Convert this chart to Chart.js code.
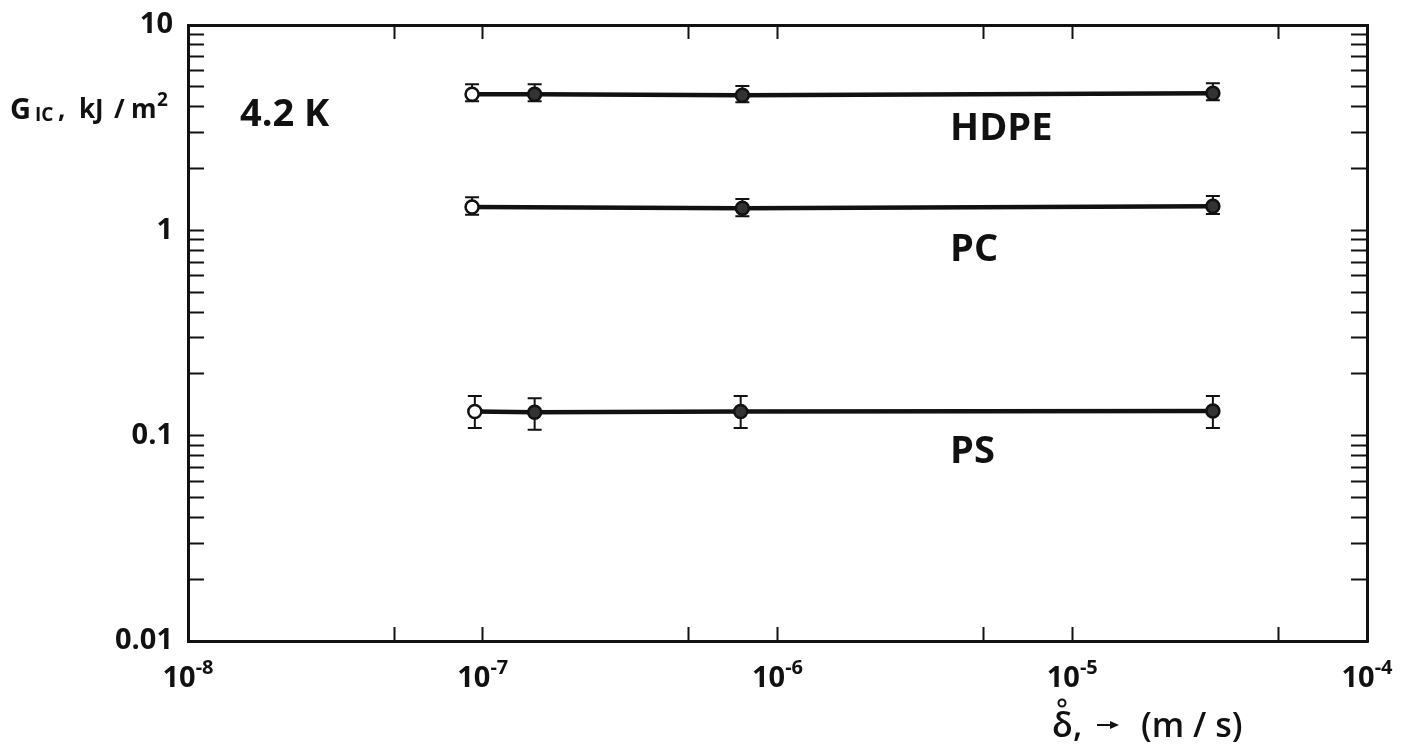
<!DOCTYPE html>
<html>
<head>
<meta charset="utf-8">
<script src="https://cdn.jsdelivr.net/npm/chart.js@4.4.1/dist/chart.umd.min.js"></script>
<style>
  html, body { margin: 0; padding: 0; background: #fff; }
  #wrap { width: 1402px; height: 747px; }
</style>
</head>
<body>
<div id="wrap"><canvas id="gicChart" width="1402" height="747"></canvas></div>
<script>
// Fracture energy G_IC at 4.2 K vs. crosshead speed, with scatter bands
const hdpeSpeed = [9.2e-8, 1.5e-7, 7.6e-7, 3.0e-5];
const hdpeG     = [4.60, 4.60, 4.55, 4.65];
const hdpeLow   = [4.25, 4.25, 4.20, 4.30];
const hdpeHigh  = [5.15, 5.15, 5.05, 5.20];

const pcSpeed = [9.2e-8, 7.6e-7, 3.0e-5];
const pcG     = [1.30, 1.28, 1.31];
const pcLow   = [1.19, 1.17, 1.20];
const pcHigh  = [1.45, 1.42, 1.47];

const psSpeed = [9.4e-8, 1.5e-7, 7.5e-7, 3.0e-5];
const psG     = [0.131, 0.130, 0.131, 0.132];
const psLow   = [0.109, 0.107, 0.109, 0.109];
const psHigh  = [0.156, 0.152, 0.156, 0.156];

// axis ticks
const xTickValues = [1e-8, 5e-8, 1e-7, 5e-7, 1e-6, 5e-6, 1e-5, 5e-5, 1e-4];
const xLabelValues = [1e-8, 1e-7, 1e-6, 1e-5, 1e-4];
const xLabelExps = ['-8', '-7', '-6', '-5', '-4'];
const yTickValues = [
  0.01, 0.02, 0.03, 0.04, 0.05, 0.06, 0.07, 0.08, 0.09,
  0.1, 0.2, 0.3, 0.4, 0.5, 0.6, 0.7, 0.8, 0.9,
  1, 2, 3, 4, 5, 6, 7, 8, 9, 10
];
const yLabelValues = [0.01, 0.1, 1, 10];
const yLabelTexts = ['0.01', '0.1', '1', '10'];

// material labels placed in data space
const materialNames = ['HDPE', 'PC', 'PS'];
const materialLabelX = [3.85e-6, 3.85e-6, 3.85e-6];
const materialLabelY = [3.12, 0.80, 0.083];

const FONT = '"Open Sans", "Noto Sans", "DejaVu Sans", sans-serif';
const INK = '#111';

function points(xs, ys) {
  return xs.map((x, i) => ({ x: x, y: ys[i] }));
}

// first specimen of each set is an open symbol
function fills(n) {
  const f = [];
  for (let i = 0; i < n; i++) f.push(i === 0 ? '#fff' : '#333');
  return f;
}

function makeSet(label, xs, ys, lo, hi) {
  return {
    label: label,
    data: points(xs, ys),
    errLow: lo,
    errHigh: hi,
    showLine: true,
    borderColor: INK,
    borderWidth: 4.5,
    pointRadius: 6.5,
    pointBorderWidth: 2.5,
    pointBorderColor: INK,
    pointBackgroundColor: fills(xs.length),
    tension: 0
  };
}

// vertical error bars with caps, under the symbols
const errorBars = {
  id: 'errorBars',
  beforeDatasetsDraw(chart) {
    const ctx = chart.ctx;
    const xs = chart.scales.x, ys = chart.scales.y;
    ctx.save();
    ctx.strokeStyle = INK;
    ctx.lineWidth = 2;
    chart.data.datasets.forEach(ds => {
      ds.data.forEach((p, i) => {
        const px = xs.getPixelForValue(p.x);
        const top = ys.getPixelForValue(ds.errHigh[i]);
        const bot = ys.getPixelForValue(ds.errLow[i]);
        ctx.beginPath();
        ctx.moveTo(px, top); ctx.lineTo(px, bot);
        ctx.moveTo(px - 7, top); ctx.lineTo(px + 7, top);
        ctx.moveTo(px - 7, bot); ctx.lineTo(px + 7, bot);
        ctx.stroke();
      });
    });
    ctx.restore();
  }
};

// power-of-ten labels, axis titles and annotations
const textLayer = {
  id: 'textLayer',
  afterDraw(chart) {
    const ctx = chart.ctx;
    const xs = chart.scales.x, ys = chart.scales.y;
    ctx.save();
    ctx.fillStyle = INK;
    ctx.textBaseline = 'alphabetic';
    ctx.textAlign = 'left';

    // x tick labels: 10 with a raised exponent
    xLabelValues.forEach((v, i) => {
      const px = xs.getPixelForValue(v);
      ctx.font = 'bold 29px ' + FONT;
      const wb = ctx.measureText('10').width;
      ctx.font = 'bold 20px ' + FONT;
      const we = ctx.measureText(xLabelExps[i]).width;
      const x0 = px - (wb + we) / 2;
      ctx.font = 'bold 29px ' + FONT;
      ctx.fillText('10', x0, 687);
      ctx.font = 'bold 20px ' + FONT;
      ctx.fillText(xLabelExps[i], x0 + wb, 674);
    });

    // y axis title: G_IC, kJ / m^2
    ctx.font = 'bold 29px ' + FONT;
    ctx.fillText('G', 10, 119);
    ctx.font = 'bold 19px ' + FONT;
    ctx.fillText('IC', 35, 121);
    ctx.font = 'bold 26px ' + FONT;
    ctx.fillText(',', 58, 118);
    ctx.fillText('kJ', 79, 118);
    ctx.fillText('/', 114, 118);
    ctx.fillText('m', 131, 118);
    ctx.font = 'bold 19px ' + FONT;
    ctx.fillText('2', 157, 106);

    // x axis title: delta with ring, arrow, (m / s)
    ctx.font = '600 34px ' + FONT;
    ctx.fillText('δ', 1052, 737);
    ctx.fillText(',', 1073, 737);
    ctx.fillText('(m / s)', 1141, 737);
    ctx.lineWidth = 2;
    ctx.strokeStyle = INK;
    ctx.beginPath();
    ctx.arc(1062, 703, 3.5, 0, Math.PI * 2);
    ctx.stroke();
    ctx.beginPath();
    ctx.moveTo(1097, 725); ctx.lineTo(1112, 725);
    ctx.stroke();
    ctx.beginPath();
    ctx.moveTo(1119, 725); ctx.lineTo(1110, 721); ctx.lineTo(1110, 729);
    ctx.closePath();
    ctx.fill();

    // temperature note
    ctx.textBaseline = 'middle';
    ctx.font = 'bold 38px ' + FONT;
    ctx.fillText('4.2 K', xs.getPixelForValue(1.5e-8), ys.getPixelForValue(3.65));

    // material names
    ctx.font = 'bold 38px ' + FONT;
    materialNames.forEach((name, i) => {
      ctx.fillText(name, xs.getPixelForValue(materialLabelX[i]), ys.getPixelForValue(materialLabelY[i]));
    });
    ctx.restore();
  }
};

function setTicks(values) {
  return function(axis) { axis.ticks = values.map(v => ({ value: v })); };
}

// fixed box sizes so the frame sits at 188..1367 x 25..641
function boxSize(w, h) {
  return function(s) {
    if (w !== null) s.width = w;
    if (h !== null) s.height = h;
    s.paddingTop = 0; s.paddingBottom = 0;
    s.paddingLeft = 0; s.paddingRight = 0;
  };
}

const inwardGrid = len => ({
  drawOnChartArea: false,
  drawTicks: true,
  tickLength: -len,
  tickWidth: 2,
  tickColor: INK
});
const frame = { display: true, width: 3, color: INK };

const ctx = document.getElementById('gicChart').getContext('2d');
const gicChart = new Chart(ctx, {
  type: 'scatter',
  data: {
    datasets: [
      makeSet('HDPE', hdpeSpeed, hdpeG, hdpeLow, hdpeHigh),
      makeSet('PC', pcSpeed, pcG, pcLow, pcHigh),
      makeSet('PS', psSpeed, psG, psLow, psHigh)
    ]
  },
  options: {
    responsive: false,
    animation: false,
    layout: { padding: 0 },
    plugins: { legend: { display: false }, tooltip: { enabled: false } },
    scales: {
      x: {
        type: 'logarithmic', position: 'bottom', min: 1e-8, max: 1e-4,
        afterBuildTicks: setTicks(xTickValues),
        afterFit: boxSize(null, 106),
        ticks: { display: false, autoSkip: false },
        grid: inwardGrid(14),
        border: frame
      },
      xTop: {
        axis: 'x', type: 'logarithmic', position: 'top', min: 1e-8, max: 1e-4,
        afterBuildTicks: setTicks(xTickValues),
        afterFit: boxSize(null, 25),
        ticks: { display: false, autoSkip: false },
        grid: inwardGrid(14),
        border: frame
      },
      y: {
        type: 'logarithmic', position: 'left', min: 0.01, max: 10,
        afterBuildTicks: setTicks(yTickValues),
        afterFit: boxSize(188, null),
        ticks: {
          autoSkip: false,
          padding: 31,
          color: INK,
          font: { family: FONT, size: 29, weight: 'bold' },
          callback: v => {
            const k = yLabelValues.findIndex(t => Math.abs(t - v) < t * 1e-6);
            return k >= 0 ? yLabelTexts[k] : '';
          }
        },
        grid: inwardGrid(16),
        border: frame
      },
      yRight: {
        axis: 'y', type: 'logarithmic', position: 'right', min: 0.01, max: 10,
        afterBuildTicks: setTicks(yTickValues),
        afterFit: boxSize(35, null),
        ticks: { display: false, autoSkip: false },
        grid: inwardGrid(16),
        border: frame
      }
    }
  },
  plugins: [errorBars, textLayer]
});
</script>
</body>
</html>
